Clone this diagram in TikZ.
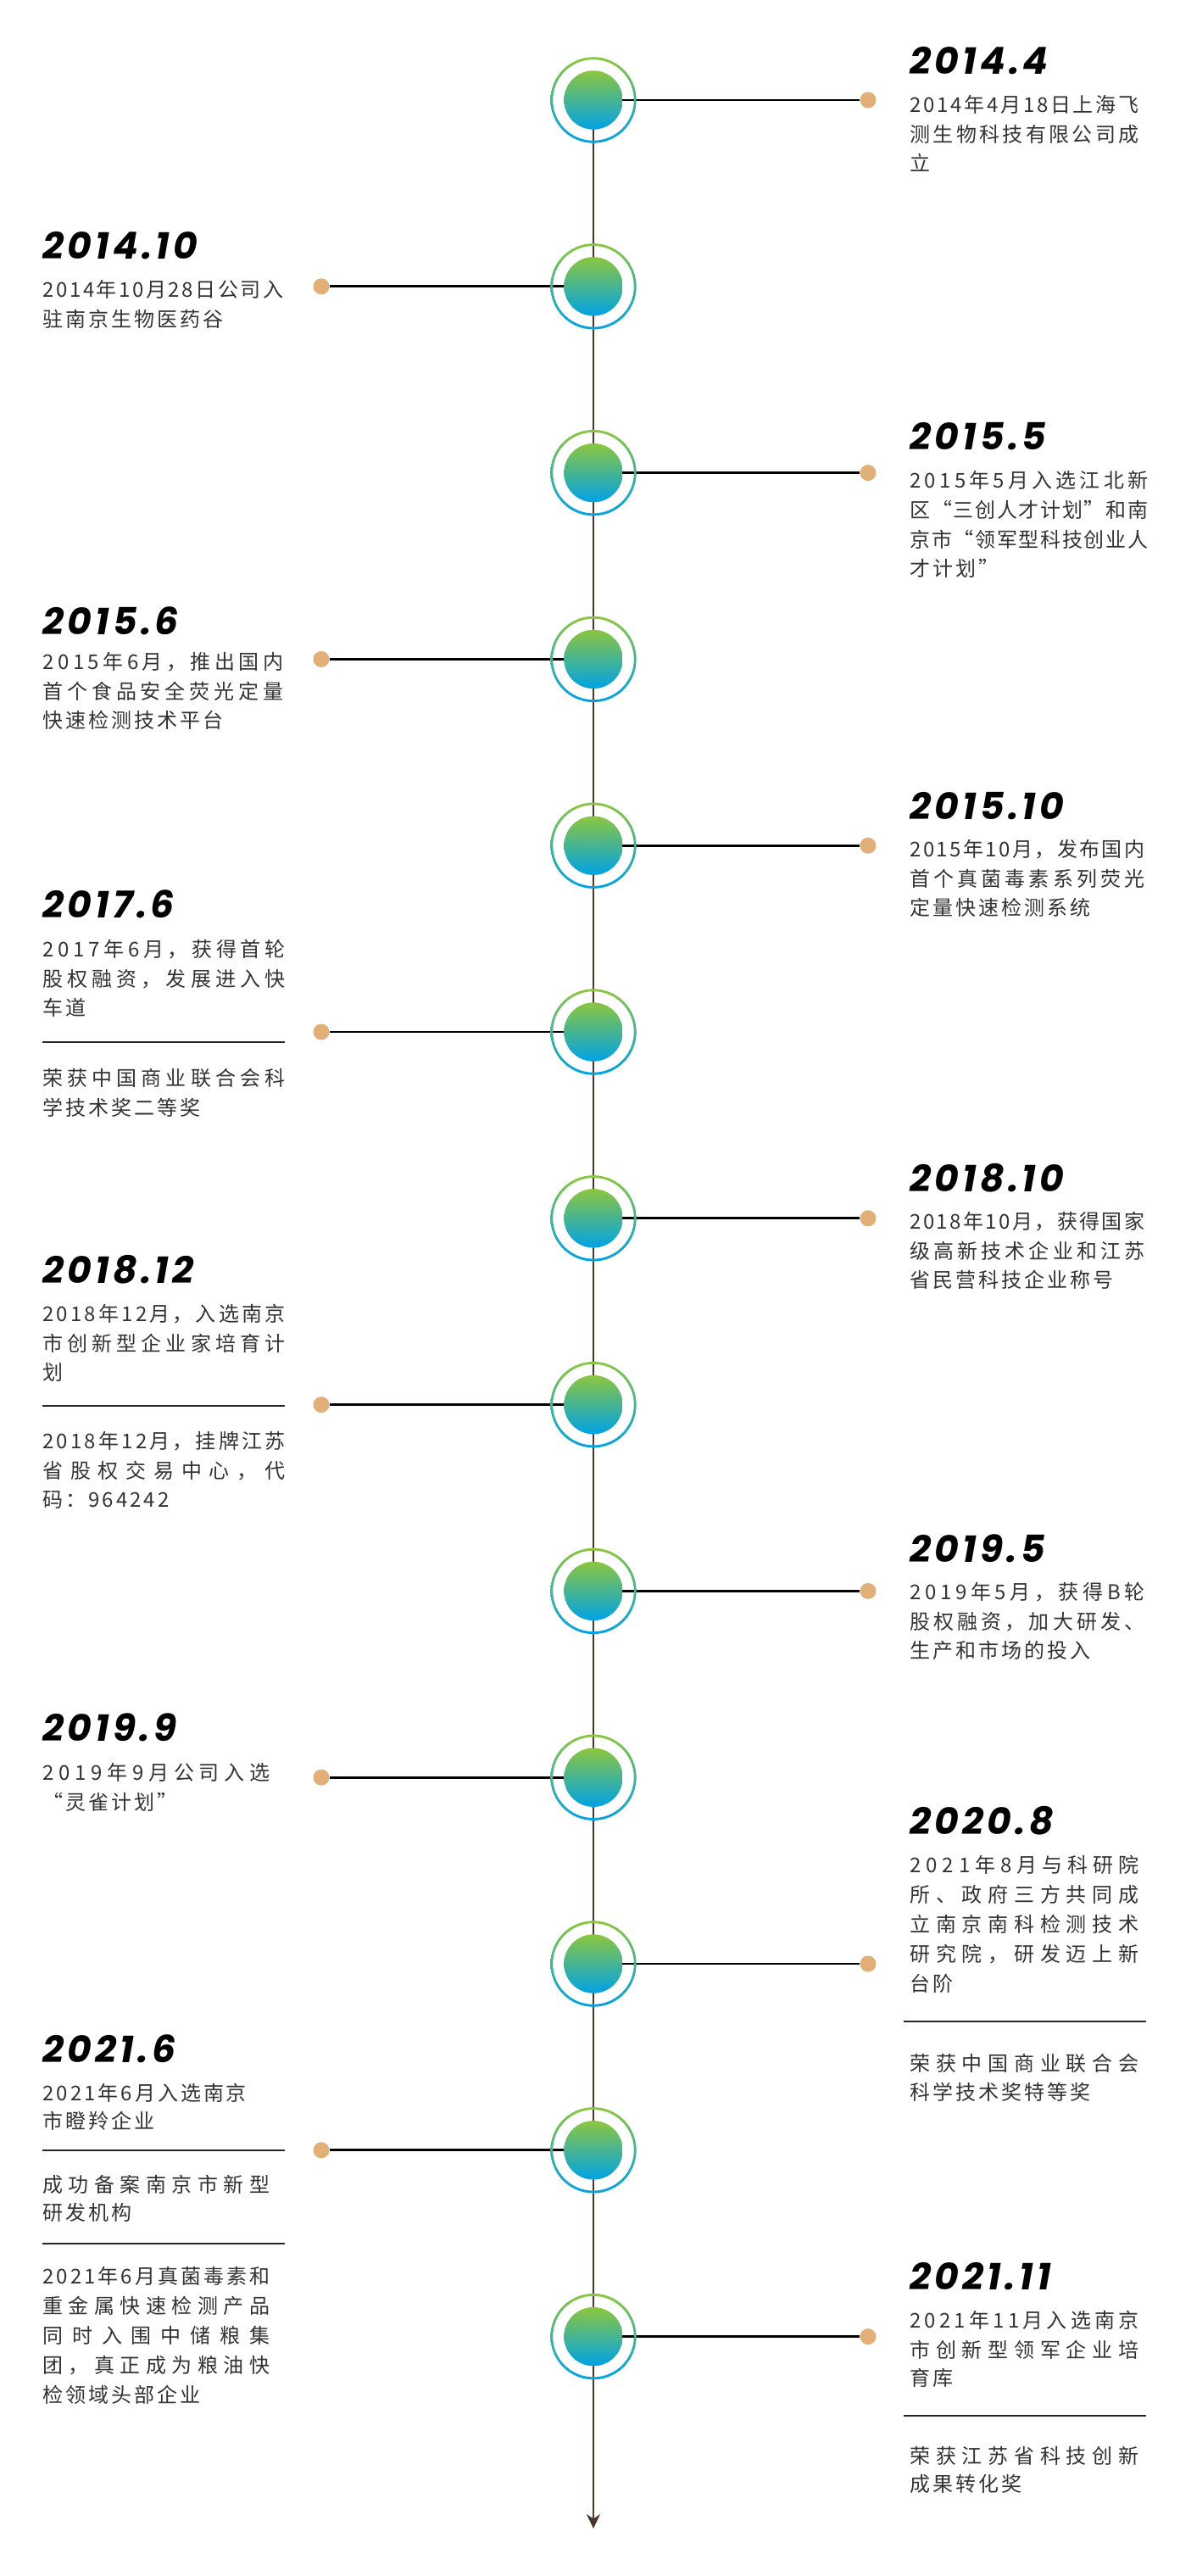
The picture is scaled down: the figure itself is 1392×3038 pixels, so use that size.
\documentclass[tikz,border=0pt]{standalone}
\usepackage{fontspec}
\usepackage{tikz}
\usetikzlibrary{arrows.meta}
\newfontfamily\cjk{Noto Sans CJK SC}
\newfontfamily\yrfont{Poppins}
\definecolor{gtop}{HTML}{8CC63F}
\definecolor{gmid}{HTML}{0FAF97}
\definecolor{gbot}{HTML}{00A2E6}
\definecolor{dotc}{HTML}{E2AF78}
\definecolor{linec}{HTML}{4B3527}
\definecolor{txtc}{HTML}{333333}
% letter spacing: one glue or kern between every character
\def\jend{}
\def\jfirst#1{#1\jnext}
\def\jnext#1{\ifx#1\jend\else\jsep#1\expandafter\jnext\fi}
\newcommand\full[2]{\makebox[\dimexpr#1pt/2\relax][s]{\let\jsep\hfil\jfirst#2\jend}}
\newcommand\nat[1]{{\def\jsep{\kern1.5pt}\jfirst#1\jend}}
\newcommand\yrtxt[1]{{\def\jsep{\kern2.1pt}\jfirst#1\jend}}
\begin{document}
\begin{tikzpicture}[x=0.5pt,y=-0.5pt,
  yr/.style={anchor=base west,inner sep=0pt,font=\yrfont\bfseries\itshape\fontsize{22}{27}\selectfont},
  txt/.style={anchor=base west,inner sep=0pt,text=txtc,font=\cjk\fontsize{12}{16}\selectfont},
  dot/.style={circle,fill=dotc,inner sep=0pt,minimum size=9.5pt},
  link/.style={line width=1.4pt,black},
  spine/.style={line width=1pt,draw=linec,-{Stealth[length=8.5pt,width=8pt]}},
  divider/.style={line width=1pt,draw=black!85}]
\useasboundingbox (0,0) rectangle (1392,3038);
\foreach \i in {0,...,12}{
  \pgfmathsetmacro\cy{118+219.8*\i}
  \ifodd\i \def\dx{379}\else\def\dx{1024}\fi
  \coordinate (c\i) at (700,\cy);
  \node[dot] (d\i) at (\dx,\cy) {};
}
\coordinate (tip) at (700,2982);
\draw[spine] (c0) -- (tip);
\foreach \i in {0,...,12} \draw[link] (c\i) -- (d\i);
\foreach \i in {0,...,12}{
  \shade[top color=gtop,middle color=gmid,bottom color=gbot,even odd rule] (c\i) circle (50.7) (c\i) circle (47.8);
  \shade[top color=gtop,middle color=gmid,bottom color=gbot] (c\i) circle (34.7);
}

% 2014.4
\node[yr] (y0) at (1073,87) {\yrtxt{2014.4}};
\node[txt] (t0a) at (1073,132) {\full{270}{2014年4月18日上海飞}};
\node[txt] (t0b) at (1073,167) {\full{270}{测生物科技有限公司成}};
\node[txt] (t0c) at (1073,201) {\nat{立}};
% 2014.10
\node[yr] (y1) at (50,305) {\yrtxt{2014.10}};
\node[txt] (t1a) at (50,350) {\full{284}{2014年10月28日公司入}};
\node[txt] (t1b) at (50,385) {\nat{驻南京生物医药谷}};
% 2015.5
\node[yr] (y2) at (1073,530) {\yrtxt{2015.5}};
\node[txt] (t2a) at (1073,575) {\full{281}{2015年5月入选江北新}};
\node[txt] (t2b) at (1073,610) {\full{281}{区“三创人才计划”和南}};
\node[txt] (t2c) at (1073,645) {\full{281}{京市“领军型科技创业人}};
\node[txt] (t2d) at (1073,679) {\nat{才计划”}};
% 2015.6
\node[yr] (y3) at (50,748) {\yrtxt{2015.6}};
\node[txt] (t3a) at (50,789) {\full{284}{2015年6月，推出国内}};
\node[txt] (t3b) at (50,824) {\full{284}{首个食品安全荧光定量}};
\node[txt] (t3c) at (50,858) {\nat{快速检测技术平台}};
% 2015.10
\node[yr] (y4) at (1073,966) {\yrtxt{2015.10}};
\node[txt] (t4a) at (1073,1010) {\full{277}{2015年10月，发布国内}};
\node[txt] (t4b) at (1073,1045) {\full{277}{首个真菌毒素系列荧光}};
\node[txt] (t4c) at (1073,1079) {\nat{定量快速检测系统}};
% 2017.6
\node[yr] (y5) at (50,1082) {\yrtxt{2017.6}};
\node[txt] (t5a) at (50,1128) {\full{286}{2017年6月，获得首轮}};
\node[txt] (t5b) at (50,1163) {\full{286}{股权融资，发展进入快}};
\node[txt] (t5c) at (50,1197) {\nat{车道}};
\draw[divider] (50,1229) -- (336,1229);
\node[txt] (t5d) at (50,1280) {\full{286}{荣获中国商业联合会科}};
\node[txt] (t5e) at (50,1315) {\nat{学技术奖二等奖}};
% 2018.10
\node[yr] (y6) at (1073,1405) {\yrtxt{2018.10}};
\node[txt] (t6a) at (1073,1449) {\full{277}{2018年10月，获得国家}};
\node[txt] (t6b) at (1073,1484) {\full{277}{级高新技术企业和江苏}};
\node[txt] (t6c) at (1073,1518) {\nat{省民营科技企业称号}};
% 2018.12
\node[yr] (y7) at (50,1513) {\yrtxt{2018.12}};
\node[txt] (t7a) at (50,1558) {\full{286}{2018年12月，入选南京}};
\node[txt] (t7b) at (50,1593) {\full{286}{市创新型企业家培育计}};
\node[txt] (t7c) at (50,1627) {\nat{划}};
\draw[divider] (50,1658) -- (336,1658);
\node[txt] (t7d) at (50,1708) {\full{286}{2018年12月，挂牌江苏}};
\node[txt] (t7e) at (50,1743) {\full{286}{省股权交易中心，代}};
\node[txt] (t7f) at (50,1777) {\nat{码：964242}};
% 2019.5
\node[yr] (y8) at (1073,1842) {\yrtxt{2019.5}};
\node[txt] (t8a) at (1073,1886) {\full{277}{2019年5月，获得B轮}};
\node[txt] (t8b) at (1073,1921) {\full{277}{股权融资，加大研发、}};
\node[txt] (t8c) at (1073,1955) {\nat{生产和市场的投入}};
% 2019.9
\node[yr] (y9) at (50,2053) {\yrtxt{2019.9}};
\node[txt] (t9a) at (50,2099) {\full{268}{2019年9月公司入选}};
\node[txt] (t9b) at (50,2134) {\nat{“灵雀计划”}};
% 2020.8
\node[yr] (y10) at (1073,2163) {\yrtxt{2020.8}};
\node[txt] (t10a) at (1073,2208) {\full{270}{2021年8月与科研院}};
\node[txt] (t10b) at (1073,2243) {\full{270}{所、政府三方共同成}};
\node[txt] (t10c) at (1073,2278) {\full{270}{立南京南科检测技术}};
\node[txt] (t10d) at (1073,2313) {\full{270}{研究院，研发迈上新}};
\node[txt] (t10e) at (1073,2348) {\nat{台阶}};
\draw[divider] (1066,2384) -- (1352,2384);
\node[txt] (t10f) at (1073,2442) {\full{270}{荣获中国商业联合会}};
\node[txt] (t10g) at (1073,2476) {\nat{科学技术奖特等奖}};
% 2021.6
\node[yr] (y11) at (50,2432) {\yrtxt{2021.6}};
\node[txt] (t11a) at (50,2477) {\nat{2021年6月入选南京}};
\node[txt] (t11b) at (50,2510) {\nat{市瞪羚企业}};
\draw[divider] (50,2536) -- (336,2536);
\node[txt] (t11c) at (50,2585) {\full{268}{成功备案南京市新型}};
\node[txt] (t11d) at (50,2618) {\nat{研发机构}};
\draw[divider] (50,2646) -- (336,2646);
\node[txt] (t11e) at (50,2693) {\full{268}{2021年6月真菌毒素和}};
\node[txt] (t11f) at (50,2728) {\full{268}{重金属快速检测产品}};
\node[txt] (t11g) at (50,2763) {\full{268}{同时入围中储粮集}};
\node[txt] (t11h) at (50,2798) {\full{268}{团，真正成为粮油快}};
\node[txt] (t11i) at (50,2833) {\nat{检领域头部企业}};
% 2021.11
\node[yr] (y12) at (1073,2700) {\yrtxt{2021.11}};
\node[txt] (t12a) at (1073,2745) {\full{270}{2021年11月入选南京}};
\node[txt] (t12b) at (1073,2780) {\full{270}{市创新型领军企业培}};
\node[txt] (t12c) at (1073,2813) {\nat{育库}};
\draw[divider] (1066,2849) -- (1352,2849);
\node[txt] (t12d) at (1073,2905) {\full{270}{荣获江苏省科技创新}};
\node[txt] (t12e) at (1073,2938) {\nat{成果转化奖}};
\end{tikzpicture}
\end{document}
